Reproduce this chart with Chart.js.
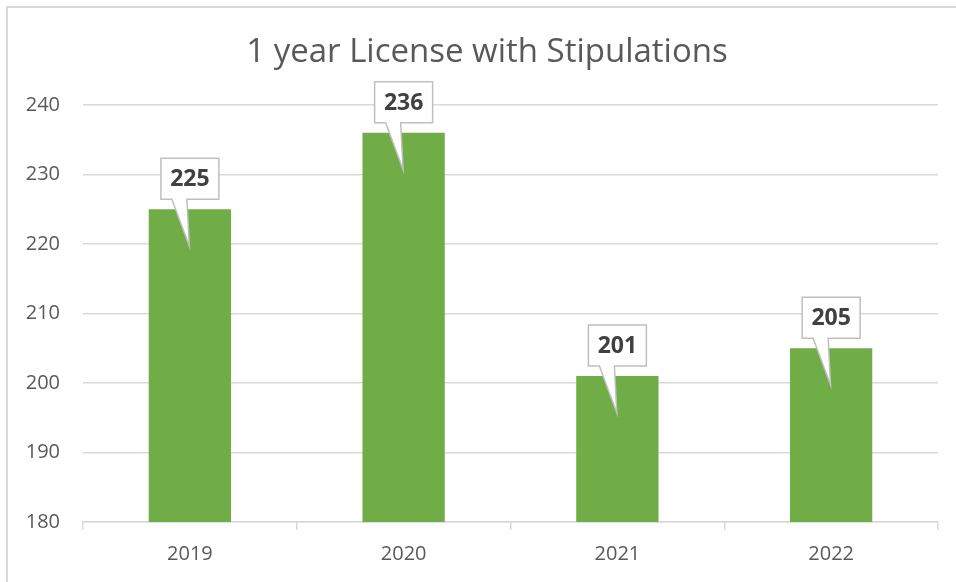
<!DOCTYPE html>
<html>
<head>
<meta charset="utf-8">
<script src="https://cdn.jsdelivr.net/npm/chart.js@4"></script>
<style>
  html, body { margin: 0; padding: 0; background: #fff; overflow: hidden; }
  #wrap { position: relative; width: 956px; height: 582px; }
  #frame { position: absolute; left: 6px; top: 6px; width: 1000px; height: 1000px;
           border: 2px solid #d9d9d9; pointer-events: none; }
</style>
</head>
<body>
<div id="wrap">
  <canvas id="chart" width="956" height="582"></canvas>
  <div id="frame"></div>
</div>
<script>
// --- data ---
const years = ['2019', '2020', '2021', '2022'];
const licenses = [225, 236, 201, 205];
const yTicks = [180, 190, 200, 210, 220, 230, 240];
const chartTitle = '1 year License with Stipulations';

const GREEN = '#70ad47';
const GRID = '#d9d9d9';
const TEXT = '#595959';
const FONT = "'Open Sans', sans-serif";

// title centred on the whole chart frame, not the plot area
const titlePlugin = {
  id: 'frameTitle',
  afterDraw(chart) {
    const ctx = chart.ctx;
    ctx.save();
    ctx.fillStyle = TEXT;
    ctx.font = `33px ${FONT}`;
    ctx.textAlign = 'center';
    ctx.textBaseline = 'alphabetic';
    ctx.fillText(chartTitle, 487, 62);
    ctx.restore();
  }
};

// callout boxes above each bar, anchored on the bar element position
const calloutPlugin = {
  id: 'callouts',
  afterDatasetsDraw(chart) {
    const ctx = chart.ctx;
    const meta = chart.getDatasetMeta(0);
    meta.data.forEach((bar, i) => {
      const w = 58, h = 41;
      const left = bar.x - w / 2;
      const bottom = bar.y - 10;
      const top = bottom - h;
      const tipY = bar.y + 37;
      ctx.save();
      ctx.beginPath();
      ctx.moveTo(left, top);
      ctx.lineTo(left + w, top);
      ctx.lineTo(left + w, bottom);
      ctx.lineTo(left + 26, bottom);
      ctx.lineTo(bar.x - 0.5, tipY);
      ctx.lineTo(left + 11, bottom);
      ctx.lineTo(left, bottom);
      ctx.closePath();
      ctx.fillStyle = '#ffffff';
      ctx.fill();
      ctx.lineWidth = 1.5;
      ctx.strokeStyle = '#bfbfbf';
      ctx.stroke();
      ctx.fillStyle = '#404040';
      ctx.font = `bold 23px ${FONT}`;
      ctx.textAlign = 'center';
      ctx.textBaseline = 'middle';
      ctx.fillText(String(licenses[i]), bar.x, top + h / 2 + 1);
      ctx.restore();
    });
  }
};

new Chart(document.getElementById('chart'), {
  type: 'bar',
  data: {
    labels: years,
    datasets: [{
      label: chartTitle,
      data: licenses,
      backgroundColor: GREEN,
      borderWidth: 0,
      categoryPercentage: 1,
      barPercentage: 0.385
    }]
  },
  options: {
    responsive: false,
    animation: false,
    layout: { padding: { left: 0, right: 18, top: 105, bottom: 4 } },
    plugins: {
      legend: { display: false },
      tooltip: { enabled: false },
      title: { display: false }
    },
    scales: {
      x: {
        grid: { drawOnChartArea: false, drawTicks: true, tickLength: 8, color: GRID, lineWidth: 1.5, offset: true },
        border: { display: true, color: GRID, width: 1.5 },
        ticks: { color: TEXT, font: { family: FONT, size: 20 }, padding: 12 }
      },
      y: {
        min: 180, max: 240,
        afterFit: s => { s.width = 83; },
        afterBuildTicks: s => { s.ticks = yTicks.map(v => ({ value: v })); },
        grid: { color: GRID, lineWidth: 1.5, drawTicks: false },
        border: { display: false },
        ticks: { color: TEXT, font: { family: FONT, size: 20 }, padding: 23 }
      }
    }
  },
  plugins: [calloutPlugin, titlePlugin]
});
</script>
</body>
</html>
